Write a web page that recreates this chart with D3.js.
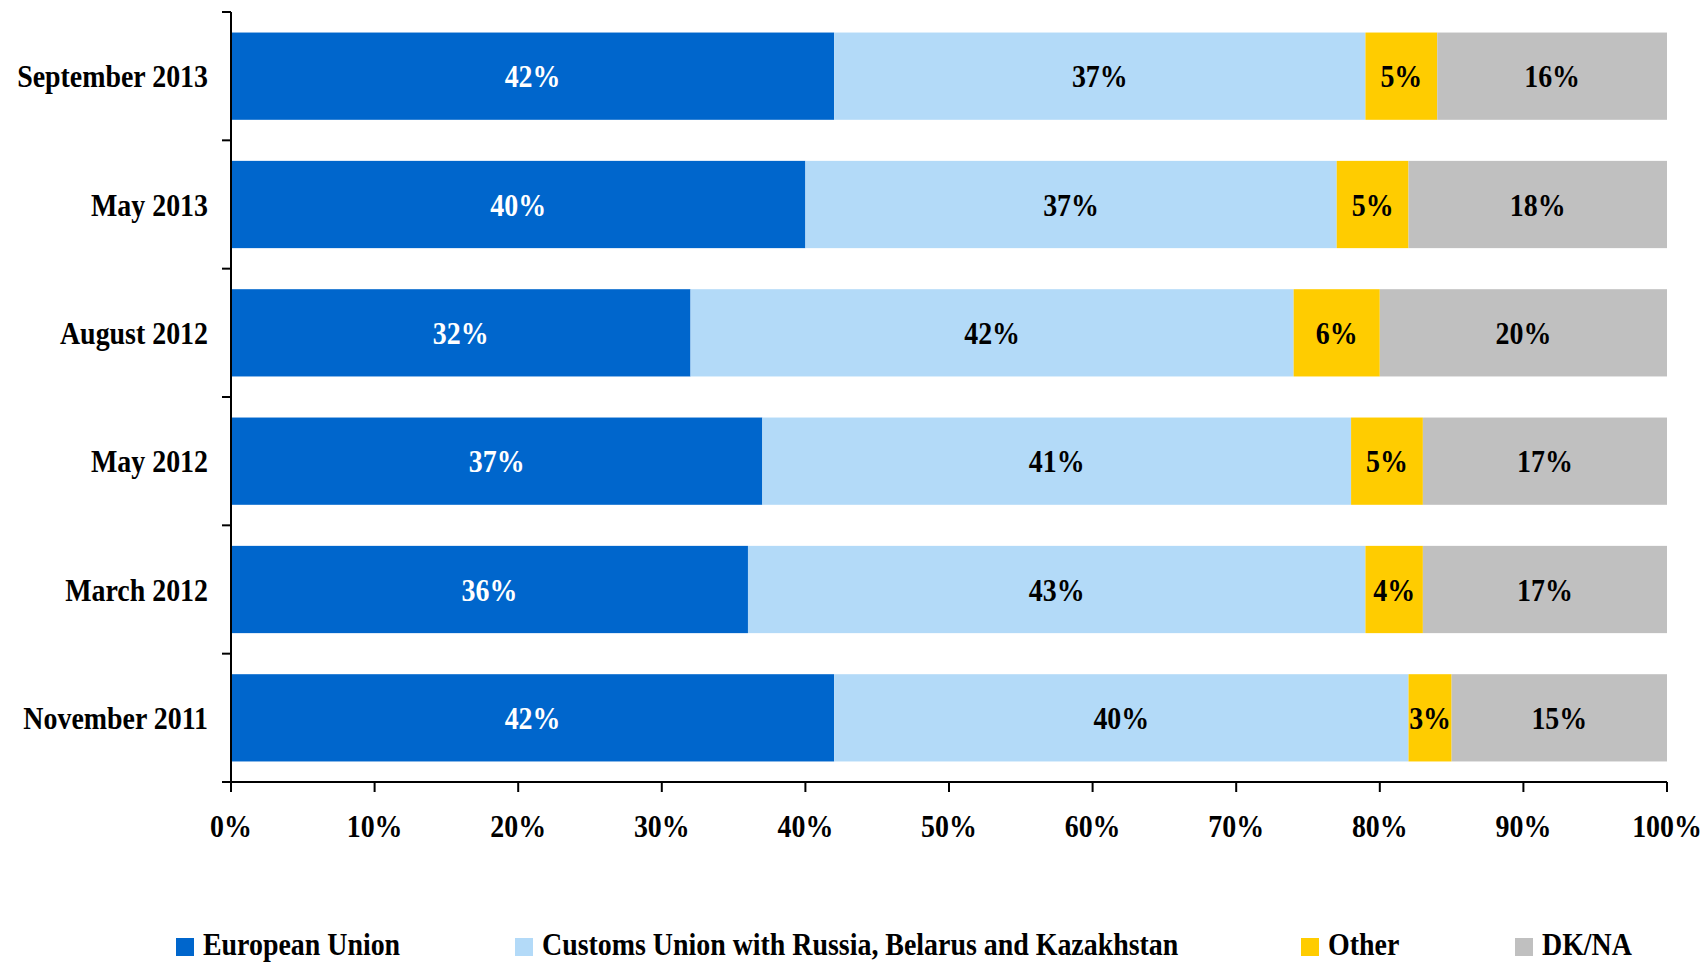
<!DOCTYPE html>
<html><head><meta charset="utf-8">
<script src="https://cdn.jsdelivr.net/npm/d3@7"></script>
<style>body{margin:0;background:#fff}svg{display:block}</style>
</head><body>
<svg id="c" width="1704" height="964"></svg>
<script>
const categories = ["September 2013","May 2013","August 2012","May 2012","March 2012","November 2011"];
const seriesNames = ["European Union","Customs Union with Russia, Belarus and Kazakhstan","Other","DK/NA"];
const euValues = [42,40,32,37,36,42];
const cuValues = [37,37,42,41,43,40];
const otherValues = [5,5,6,5,4,3];
const dknaValues = [16,18,20,17,17,15];
const xTicks = [0,10,20,30,40,50,60,70,80,90,100];
const colors = ["#0066CC","#B3DAF8","#FFCC00","#C0C0C0"];
const labelColors = ["#fff","#000","#000","#000"];

const FONT = "'Liberation Serif','Times New Roman',serif";
const FS = 31, SX = 0.9;
const svg = d3.select("#c");
const L = 231, R = 1667, T = 12, B = 782;

const rows = categories.map((c,i)=>({cat:c, vals:[euValues[i],cuValues[i],otherValues[i],dknaValues[i]]}));
const stackData = rows.map(r=>{const o={cat:r.cat}; seriesNames.forEach((s,j)=>o[s]=r.vals[j]); return o;});
const stack = d3.stack().keys(seriesNames)(stackData);

const x = d3.scaleLinear().domain([0,100]).range([L,R]);
const y = d3.scaleBand().domain(categories).range([T,B]).paddingInner(0.32).paddingOuter(0.16);

function stext(g, tx, ty, str, anchor, fill){
  const gg = g.append("g").attr("transform",`translate(${tx},${ty}) scale(${SX},1)`);
  gg.append("text").attr("text-anchor",anchor).attr("fill",fill||"#000")
    .attr("font-family",FONT).attr("font-weight","bold").attr("font-size",FS).text(str);
  return gg;
}

// bars
stack.forEach((layer,j)=>{
  const g = svg.append("g");
  layer.forEach(d=>{
    g.append("rect").attr("x",x(d[0])).attr("y",y(d.data.cat))
      .attr("width",x(d[1])-x(d[0])).attr("height",y.bandwidth()).attr("fill",colors[j]);
    stext(g,(x(d[0])+x(d[1]))/2, y(d.data.cat)+y.bandwidth()/2+11, (d[1]-d[0])+"%","middle",labelColors[j]);
  });
});

// y axis
const ax = svg.append("g").attr("stroke","#000").attr("stroke-width",2);
ax.append("line").attr("x1",L).attr("x2",L).attr("y1",T).attr("y2",B);
for(let k=0;k<=categories.length;k++){
  const yy = T + (B-T)*k/categories.length;
  ax.append("line").attr("x1",L-9).attr("x2",L).attr("y1",yy).attr("y2",yy);
}
// x axis
ax.append("line").attr("x1",L-9).attr("x2",R).attr("y1",B).attr("y2",B);
xTicks.forEach(t=>{
  ax.append("line").attr("x1",x(t)).attr("x2",x(t)).attr("y1",B).attr("y2",B+10);
});
const tg = svg.append("g");
xTicks.forEach(t=> stext(tg, x(t), 837, t+"%", "middle"));
categories.forEach(c=> stext(tg, 208, y(c)+y.bandwidth()/2+11, c, "end"));

// legend
const legX = [176,515,1301,1515];
const lg = svg.append("g");
seriesNames.forEach((s,j)=>{
  lg.append("rect").attr("x",legX[j]).attr("y",938).attr("width",18).attr("height",18).attr("fill",colors[j]);
  stext(lg, legX[j]+27, 955, s, "start");
});
</script>
</body></html>
